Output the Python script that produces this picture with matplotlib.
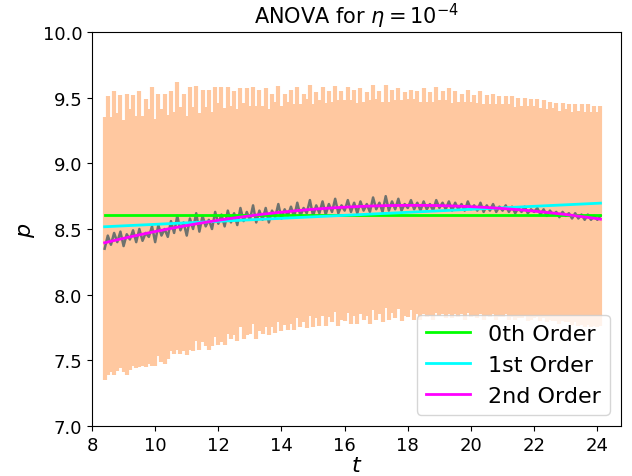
import numpy as np
import matplotlib
matplotlib.use("Agg")
import matplotlib.pyplot as plt

# sample times (step 0.1)
t = np.round(np.arange(8.4, 24.15, 0.1), 2)

# mean p
p_mean = [
    8.35, 8.45, 8.38, 8.47, 8.40, 8.48, 8.37, 8.46, 8.42, 8.49,
    8.40, 8.50, 8.41, 8.47, 8.44, 8.52, 8.40, 8.53, 8.45, 8.50,
    8.44, 8.56, 8.47, 8.60, 8.49, 8.55, 8.45, 8.58, 8.50, 8.62,
    8.48, 8.60, 8.52, 8.57, 8.50, 8.63, 8.54, 8.61, 8.52, 8.64,
    8.55, 8.62, 8.53, 8.66, 8.56, 8.63, 8.57, 8.68, 8.55, 8.64,
    8.57, 8.66, 8.55, 8.64, 8.59, 8.69, 8.58, 8.65, 8.60, 8.67,
    8.59, 8.70, 8.60, 8.66, 8.62, 8.72, 8.60, 8.68, 8.62, 8.71,
    8.61, 8.69, 8.63, 8.73, 8.62, 8.68, 8.64, 8.72, 8.63, 8.70,
    8.62, 8.71, 8.64, 8.69, 8.63, 8.74, 8.65, 8.70, 8.63, 8.75,
    8.64, 8.71, 8.65, 8.73, 8.64, 8.69, 8.66, 8.72, 8.65, 8.70,
    8.64, 8.71, 8.65, 8.69, 8.64, 8.72, 8.66, 8.70, 8.65, 8.71,
    8.64, 8.70, 8.65, 8.69, 8.64, 8.71, 8.65, 8.68, 8.64, 8.70,
    8.63, 8.68, 8.64, 8.69, 8.63, 8.67, 8.64, 8.68, 8.63, 8.67,
    8.62, 8.66, 8.63, 8.67, 8.62, 8.65, 8.63, 8.66, 8.61, 8.65,
    8.60, 8.64, 8.61, 8.63, 8.59, 8.63, 8.60, 8.62, 8.58, 8.62,
    8.58, 8.61, 8.57, 8.61, 8.57, 8.60, 8.57, 8.60,
]

# half width of the error bars
p_err = [
    1.00, 1.06, 0.97, 1.08, 0.98, 1.04, 0.96, 1.07, 0.99, 1.03,
    0.96, 1.05, 0.95, 1.02, 0.97, 1.06, 0.94, 1.00, 0.96, 1.03,
    0.93, 0.99, 0.92, 1.02, 0.94, 0.98, 0.91, 1.00, 0.93, 0.97,
    0.90, 0.96, 0.91, 0.99, 0.89, 0.95, 0.92, 0.97, 0.90, 0.94,
    0.89, 0.93, 0.88, 0.91, 0.90, 0.94, 0.87, 0.90, 0.89, 0.92,
    0.87, 0.91, 0.86, 0.89, 0.88, 0.90, 0.86, 0.88, 0.87, 0.89,
    0.86, 0.88, 0.85, 0.87, 0.87, 0.88, 0.85, 0.86, 0.86, 0.87,
    0.85, 0.86, 0.84, 0.86, 0.86, 0.87, 0.84, 0.86, 0.85, 0.86,
    0.84, 0.86, 0.83, 0.85, 0.85, 0.86, 0.84, 0.85, 0.84, 0.85,
    0.83, 0.85, 0.83, 0.84, 0.84, 0.85, 0.83, 0.84, 0.84, 0.85,
    0.83, 0.86, 0.82, 0.85, 0.83, 0.86, 0.82, 0.85, 0.83, 0.86,
    0.82, 0.85, 0.82, 0.84, 0.83, 0.85, 0.82, 0.84, 0.82, 0.85,
    0.82, 0.84, 0.81, 0.84, 0.82, 0.84, 0.81, 0.83, 0.82, 0.84,
    0.81, 0.84, 0.81, 0.83, 0.82, 0.84, 0.81, 0.83, 0.81, 0.83,
    0.81, 0.83, 0.81, 0.83, 0.81, 0.83, 0.81, 0.83, 0.81, 0.83,
    0.82, 0.84, 0.82, 0.84, 0.82, 0.84, 0.82, 0.84,
]

orders = [0, 1, 2]
order_labels = ["0th Order", "1st Order", "2nd Order"]
order_colors = ["lime", "cyan", "magenta"]

p_mean = np.array(p_mean)
p_err = np.array(p_err)

fig = plt.figure(figsize=(6.32, 4.77), dpi=100)
ax = fig.add_axes([92 / 632, 1 - 427 / 477, 529 / 632, 394 / 477])

# opaque light orange so overlapping bars do not darken
ax.errorbar(t, p_mean, yerr=p_err, fmt='none', ecolor='#ffc8a0', elinewidth=3)
ax.plot(t, p_mean, color='#6e726e', lw=1.8)

for deg, lab, col in zip(orders, order_labels, order_colors):
    coef = np.polyfit(t, p_mean, deg)
    ax.plot(t, np.polyval(coef, t), color=col, lw=2, label=lab)

ax.set_xlim(8, 24.75)
ax.set_ylim(7, 10)
ax.set_xticks(np.arange(8, 25, 2))
ax.tick_params(labelsize=13)
ax.set_xlabel('$t$', fontsize=16, labelpad=1)
ax.set_ylabel('$p$', fontsize=16)
ax.set_title(r'ANOVA for $\eta = 10^{-4}$', fontsize=15)
ax.legend(loc='lower right', fontsize=16)

fig.savefig('out.png')
